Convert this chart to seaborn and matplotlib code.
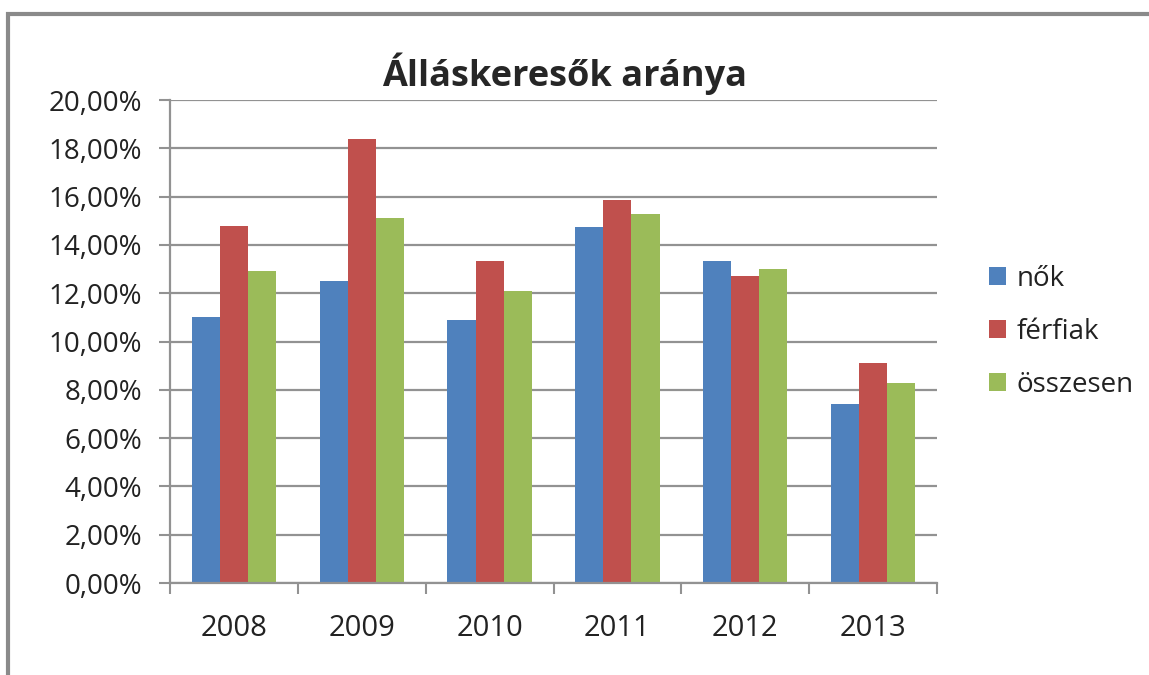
import pandas as pd
import seaborn as sns
import matplotlib.pyplot as plt
from matplotlib.patches import Rectangle
from matplotlib.ticker import FuncFormatter, FixedLocator

years = ['2008', '2009', '2010', '2011', '2012', '2013']
nok = [11.0, 12.5, 10.9, 14.75, 13.35, 7.4]
ferfiak = [14.8, 18.4, 13.35, 15.85, 12.7, 9.1]
osszesen = [12.9, 15.1, 12.1, 15.3, 13.0, 8.3]
series_names = ['nők', 'férfiak', 'összesen']
colors = ['#4F81BD', '#C0504D', '#9BBB59']

df = pd.DataFrame({'year': years * 3,
                   'value': nok + ferfiak + osszesen,
                   'series': [s for s in series_names for _ in years]})

sns.set_style('white')
plt.rcParams['font.family'] = ['Open Sans', 'DejaVu Sans']

fig = plt.figure(figsize=(11.49, 6.75), dpi=100)
ax = fig.add_axes([170 / 1149, 1 - 583 / 675, 767 / 1149, 483 / 675])

sns.barplot(data=df, x='year', y='value', hue='series', palette=colors,
            width=0.66, saturation=1, ax=ax, edgecolor='none')

ax.set_ylim(0, 20)
ax.set_yticks(range(0, 21, 2))
ax.yaxis.set_major_formatter(FuncFormatter(lambda v, p: f'{v:.2f}%'.replace('.', ',')))
ax.set_xlim(-0.5, 5.5)
ax.grid(axis='y', color='#929292', linewidth=1.6)
ax.set_axisbelow(True)
for s in ['top', 'right']:
    ax.spines[s].set_visible(False)
for s in ['left', 'bottom']:
    ax.spines[s].set_color('#929292')
    ax.spines[s].set_linewidth(1.6)

# category boundary ticks on x axis
ax.xaxis.set_minor_locator(FixedLocator([i - 0.5 for i in range(7)]))
ax.tick_params(axis='x', which='minor', length=8, width=1.5, color='#929292', bottom=True)
ax.tick_params(axis='x', which='major', length=0, labelsize=21, pad=22, labelcolor='#222222')
ax.tick_params(axis='y', length=8, width=1.5, color='#929292', labelsize=20, pad=12,
               left=True, labelcolor='#222222')
ax.set_xlabel('')
ax.set_ylabel('')

ax.set_title('Álláskeresők aránya', fontsize=26, fontweight='bold', pad=10, x=0.515)

ax.legend(title=None, loc='center left', bbox_to_anchor=(1.035, 0.52), frameon=False,
          fontsize=20, handlelength=0.6, handleheight=0.6, handletextpad=0.4,
          labelspacing=0.9, labelcolor='#222222')

fig.patches.append(Rectangle((8 / 1149, -0.1), 1.2, 1.1 - 14 / 675, transform=fig.transFigure,
                             fill=False, edgecolor='#8a8a8a', linewidth=3))

fig.savefig('out.png', dpi=100)
